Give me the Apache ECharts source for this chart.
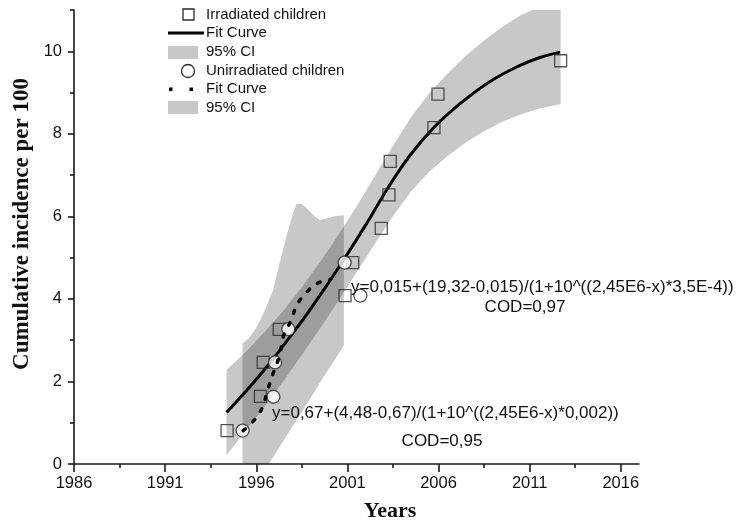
<!DOCTYPE html>
<html>
<head>
<meta charset="utf-8">
<script src="https://cdn.jsdelivr.net/npm/echarts@6/dist/echarts.min.js"></script>
<style>
  html, body { margin: 0; padding: 0; background: #fff; }
  #chart { width: 738px; height: 524px; }
</style>
</head>
<body>
<div id="chart"></div>
<script>
// Irradiated children: observed cumulative incidence
const irrYears  = [1994.4, 1996.23, 1996.38, 1997.26, 2000.87, 2001.29, 2002.86, 2003.28, 2003.35, 2005.75, 2005.97, 2012.7];
const irrValues = [0.81, 1.64, 2.46, 3.26, 4.08, 4.88, 5.71, 6.52, 7.33, 8.15, 8.96, 9.77];

// Unirradiated children: observed cumulative incidence
const unYears  = [1995.25, 1996.94, 1997.03, 1997.76, 2001.71, 2000.85];
const unValues = [0.81, 1.63, 2.46, 3.27, 4.08, 4.88];

// Logistic fit, irradiated
const irrFitX = [1994.37, 1995.47, 1996.57, 1997.66, 1998.76, 1999.86, 2000.96, 2002.06, 2003.24, 2004.44, 2005.74, 2007.18, 2008.83, 2010.48, 2011.57, 2012.67];
const irrFitY = [1.25, 1.78, 2.35, 2.97, 3.62, 4.32, 5.06, 5.83, 6.70, 7.48, 8.15, 8.73, 9.27, 9.66, 9.85, 9.98];

// Logistic fit, unirradiated
const unFitX = [1995.28, 1995.92, 1996.36, 1996.57, 1996.93, 1997.30, 1997.48, 1997.94, 1998.21, 1998.76, 1999.37, 2000.08];
const unFitY = [0.81, 1.08, 1.39, 1.71, 2.20, 2.66, 3.08, 3.51, 3.84, 4.16, 4.38, 4.48];

// 95% confidence band, irradiated
const irrCiX     = [1994.37, 1995.5, 1996.5, 1997.5, 1998.5, 1999.5, 2000.5, 2001.5, 2002.5, 2003.5, 2004.5, 2005.5, 2006.5, 2007.5, 2008.5, 2009.5, 2010.5, 2011.5, 2012.7];
const irrCiUpper = [2.28, 2.75, 3.22, 3.72, 4.28, 4.89, 5.55, 6.24, 6.97, 7.71, 8.41, 8.99, 9.46, 9.89, 10.26, 10.59, 10.87, 11.07, 11.24];
const irrCiLower = [0.22, 0.85, 1.42, 2.02, 2.64, 3.29, 3.95, 4.64, 5.33, 6.01, 6.61, 7.09, 7.46, 7.79, 8.06, 8.29, 8.47, 8.61, 8.72];

// 95% confidence band, unirradiated
const unCiX     = [1995.25, 1995.6, 1996.0, 1996.5, 1996.93, 1997.3, 1997.66, 1998.0, 1998.21, 1998.5, 1998.76, 1999.2, 1999.49, 1999.86, 2000.3, 2000.81];
const unCiUpper = [2.92, 3.05, 3.30, 3.75, 4.22, 4.90, 5.51, 6.05, 6.30, 6.30, 6.20, 6.00, 5.91, 5.95, 6.00, 6.03];
const unCiLower = [-1.0, -0.75, -0.47, -0.13, 0.17, 0.43, 0.68, 0.92, 1.06, 1.26, 1.45, 1.75, 1.96, 2.22, 2.52, 2.88];

// Axis ticks
const xMajorTicks = [1986, 1991, 1996, 2001, 2006, 2011, 2016];
const xMinorTicks = [1988.5, 1993.5, 1998.5, 2003.5, 2008.5, 2013.5];
const yMajorTicks = [0, 2, 4, 6, 8, 10];
const yMinorTicks = [1, 3, 5, 7, 9, 11];

const eqIrr = 'y=0,015+(19,32-0,015)/(1+10^((2,45E6-x)*3,5E-4))';
const codIrr = 'COD=0,97';
const eqUn = 'y=0,67+(4,48-0,67)/(1+10^((2,45E6-x)*0,002))';
const codUn = 'COD=0,95';

const AXIS = '#1a1a1a';
const BAND = 'rgba(0,0,0,0.215)';
const SANS = '"Liberation Sans", Arial, sans-serif';
const SERIF = '"Liberation Serif", "Times New Roman", serif';

// Confidence band drawn as one closed polygon: upper edge left to right, lower edge back
function bandSeries(xs, up, lo) {
  return {
    type: 'custom',
    clip: true,
    silent: true,
    data: xs.map((x, i) => [x, up[i]]),
    renderItem: function (params, api) {
      if (params.dataIndex !== 0) return null;
      const pts = [];
      for (let i = 0; i < xs.length; i++) pts.push(api.coord([xs[i], up[i]]));
      for (let i = xs.length - 1; i >= 0; i--) pts.push(api.coord([xs[i], lo[i]]));
      return { type: 'polygon', shape: { points: pts }, style: { fill: BAND } };
    },
    z: 1
  };
}

const chart = echarts.init(document.getElementById('chart'), null, { renderer: 'canvas' });

const axisBase = {
  axisLine: { show: true, lineStyle: { color: AXIS, width: 1.6 } },
  splitLine: { show: false },
  minorTick: { show: false }
};
const plain = v => String(v);

chart.setOption({
  animation: false,
  backgroundColor: '#fff',
  grid: { left: 74, right: 99, top: 10, bottom: 60 },
  xAxis: [
    Object.assign({}, axisBase, {
      type: 'value', min: 1986, max: 2017, interval: 5,
      axisTick: { show: true, customValues: xMajorTicks, length: 8, lineStyle: { color: AXIS, width: 1.6 } },
      axisLabel: { customValues: xMajorTicks, formatter: plain, color: '#111', fontFamily: SANS, fontSize: 16.5, margin: 11 }
    }),
    {
      type: 'value', min: 1986, max: 2017, position: 'bottom',
      axisLine: { show: false }, splitLine: { show: false },
      axisLabel: { show: false },
      axisTick: { show: true, customValues: xMinorTicks, length: 4, lineStyle: { color: AXIS, width: 1.6 } }
    }
  ],
  yAxis: [
    Object.assign({}, axisBase, {
      type: 'value', min: 0, max: 11, interval: 2,
      axisTick: { show: true, customValues: yMajorTicks, length: 6, lineStyle: { color: AXIS, width: 1.6 } },
      axisLabel: { customValues: yMajorTicks, formatter: plain, color: '#111', fontFamily: SANS, fontSize: 16.5, margin: 12 }
    }),
    {
      type: 'value', min: 0, max: 11, position: 'left',
      axisLine: { show: false }, splitLine: { show: false },
      axisLabel: { show: false },
      axisTick: { show: true, customValues: yMinorTicks, length: 4, lineStyle: { color: AXIS, width: 1.6 } }
    }
  ],
  series: [
    bandSeries(irrCiX, irrCiUpper, irrCiLower),
    bandSeries(unCiX, unCiUpper, unCiLower),
    {
      type: 'line', name: 'Fit irradiated', smooth: 0.4, showSymbol: false, symbol: 'none',
      data: irrFitX.map((x, i) => [x, irrFitY[i]]),
      lineStyle: { color: '#000', width: 3 }, z: 3
    },
    {
      type: 'scatter', name: 'Irradiated children', symbol: 'rect', symbolSize: 12,
      data: irrYears.map((x, i) => [x, irrValues[i]]),
      itemStyle: { color: 'rgba(0,0,0,0)', borderColor: '#2a2a2a', borderWidth: 1.3 }, z: 4
    },
    {
      type: 'scatter', name: 'Unirradiated children', symbol: 'circle', symbolSize: 13,
      data: unYears.map((x, i) => [x, unValues[i]]),
      itemStyle: { color: '#fff', borderColor: '#2a2a2a', borderWidth: 1.3 }, z: 5
    },
    {
      type: 'line', name: 'Fit unirradiated', smooth: 0.4, showSymbol: false, symbol: 'none',
      data: unFitX.map((x, i) => [x, unFitY[i]]),
      lineStyle: { color: '#000', width: 3.5, type: [3, 10], cap: 'round' }, z: 6
    }
  ],
  graphic: [
    // legend
    { type: 'rect', shape: { x: 183, y: 9, width: 11, height: 11 }, style: { fill: 'none', stroke: '#2a2a2a', lineWidth: 1.3 } },
    { type: 'text', x: 206, y: 15, style: { text: 'Irradiated children', font: '15px ' + SANS, fill: '#111', verticalAlign: 'middle' } },
    { type: 'line', shape: { x1: 168, y1: 33, x2: 204, y2: 33 }, style: { stroke: '#000', lineWidth: 3 } },
    { type: 'text', x: 206, y: 33, style: { text: 'Fit Curve', font: '15px ' + SANS, fill: '#111', verticalAlign: 'middle' } },
    { type: 'rect', shape: { x: 168, y: 46, width: 30, height: 13 }, style: { fill: '#c8c8c8' } },
    { type: 'text', x: 206, y: 52, style: { text: '95% CI', font: '15px ' + SANS, fill: '#111', verticalAlign: 'middle' } },
    { type: 'circle', shape: { cx: 188, cy: 71, r: 6.5 }, style: { fill: '#fff', stroke: '#2a2a2a', lineWidth: 1.3 } },
    { type: 'text', x: 206, y: 71, style: { text: 'Unirradiated children', font: '15px ' + SANS, fill: '#111', verticalAlign: 'middle' } },
    { type: 'rect', shape: { x: 169, y: 87.5, width: 3.5, height: 3.5 }, style: { fill: '#000' } },
    { type: 'rect', shape: { x: 189.5, y: 87.5, width: 3.5, height: 3.5 }, style: { fill: '#000' } },
    { type: 'text', x: 206, y: 89, style: { text: 'Fit Curve', font: '15px ' + SANS, fill: '#111', verticalAlign: 'middle' } },
    { type: 'rect', shape: { x: 168, y: 101, width: 30, height: 13 }, style: { fill: '#c8c8c8' } },
    { type: 'text', x: 206, y: 108, style: { text: '95% CI', font: '15px ' + SANS, fill: '#111', verticalAlign: 'middle' } },
    // fit annotations
    { type: 'text', x: 351, y: 287, z: 10, style: { text: eqIrr, font: '17px ' + SANS, fill: '#111', verticalAlign: 'middle' } },
    { type: 'text', x: 525, y: 307, z: 10, style: { text: codIrr, font: '17px ' + SANS, fill: '#111', align: 'center', verticalAlign: 'middle' } },
    { type: 'text', x: 272, y: 413, z: 10, style: { text: eqUn, font: '17px ' + SANS, fill: '#111', verticalAlign: 'middle' } },
    { type: 'text', x: 442, y: 441, z: 10, style: { text: codUn, font: '17px ' + SANS, fill: '#111', align: 'center', verticalAlign: 'middle' } },
    // axis titles
    { type: 'text', x: 390, y: 511, style: { text: 'Years', font: 'bold 22px ' + SERIF, fill: '#111', align: 'center', verticalAlign: 'middle' } },
    { type: 'text', x: 22, y: 224, rotation: Math.PI / 2, style: { text: 'Cumulative incidence per 100', font: 'bold 23px ' + SERIF, fill: '#111', align: 'center', verticalAlign: 'middle' } }
  ]
});
</script>
</body>
</html>
